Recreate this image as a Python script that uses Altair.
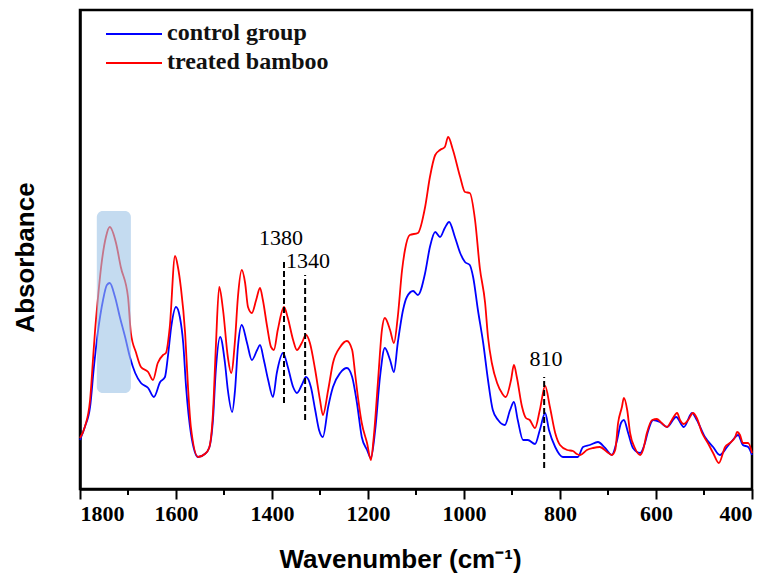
import altair as alt
import pandas as pd

# ---- data (wavenumber in cm-1, absorbance in a.u.) ----
wn_control = [1800, 1790, 1779, 1771, 1763, 1752, 1744, 1738, 1727, 1717, 1706, 1696, 1685, 1673,
              1658, 1646, 1633, 1623, 1617, 1610, 1600, 1592, 1585, 1579, 1569, 1554, 1540, 1531,
              1523, 1517, 1508, 1498, 1492, 1483, 1477, 1471, 1463, 1452, 1442, 1431, 1425, 1417,
              1408, 1398, 1390, 1377, 1367, 1356, 1348, 1338, 1329, 1319, 1310, 1302, 1294, 1283,
              1273, 1258, 1244, 1233, 1223, 1213, 1202, 1194, 1185, 1175, 1165, 1154, 1146, 1138,
              1127, 1119, 1106, 1096, 1081, 1071, 1060, 1050, 1040, 1031, 1019, 1008, 998, 988,
              981, 971, 960, 950, 940, 929, 915, 904, 896, 888, 877, 867, 852, 842, 831, 823, 810,
              794, 763, 752, 738, 721, 706, 692, 681, 673, 667, 658, 648, 633, 623, 617, 606, 592,
              577, 558, 542, 525, 515, 498, 481, 467, 452, 440, 429, 419, 408, 400]
abs_control = [0.49, 0.62, 0.82, 1.22, 1.56, 1.89, 2.04, 2.06, 1.92, 1.72, 1.52, 1.32, 1.16, 1.06,
               1.01, 0.92, 1.07, 1.12, 1.32, 1.62, 1.82, 1.72, 1.46, 1.02, 0.56, 0.32, 0.35, 0.41,
               0.69, 1.19, 1.52, 1.26, 0.99, 0.77, 0.99, 1.42, 1.64, 1.46, 1.29, 1.39, 1.44, 1.29,
               1.09, 0.92, 1.16, 1.36, 1.22, 1.02, 0.96, 1.04, 1.12, 1.02, 0.79, 0.59, 0.52, 0.82,
               1.02, 1.16, 1.21, 1.12, 0.86, 0.52, 0.39, 0.31, 0.59, 1.12, 1.41, 1.29, 1.17, 1.46,
               1.79, 1.92, 1.98, 1.94, 2.16, 2.42, 2.57, 2.52, 2.61, 2.67, 2.52, 2.36, 2.27, 2.24,
               2.12, 1.79, 1.46, 1.09, 0.79, 0.69, 0.64, 0.79, 0.87, 0.69, 0.49, 0.49, 0.45, 0.59,
               0.76, 0.59, 0.42, 0.32, 0.32, 0.42, 0.44, 0.47, 0.41, 0.34, 0.49, 0.66, 0.69, 0.56,
               0.41, 0.36, 0.46, 0.57, 0.69, 0.67, 0.62, 0.72, 0.62, 0.76, 0.69, 0.52, 0.42, 0.34,
               0.42, 0.49, 0.54, 0.44, 0.42, 0.34]

wn_treated = [1800, 1790, 1779, 1773, 1769, 1763, 1756, 1746, 1738, 1725, 1715, 1700, 1694, 1683,
              1673, 1658, 1648, 1638, 1627, 1621, 1613, 1602, 1596, 1590, 1581, 1575, 1569, 1554,
              1540, 1531, 1523, 1517, 1510, 1502, 1492, 1485, 1477, 1471, 1463, 1456, 1450, 1442,
              1433, 1425, 1419, 1410, 1402, 1396, 1388, 1375, 1367, 1356, 1348, 1338, 1329, 1321,
              1310, 1300, 1294, 1283, 1273, 1258, 1244, 1233, 1227, 1221, 1213, 1202, 1194, 1188,
              1179, 1171, 1165, 1154, 1146, 1138, 1129, 1123, 1113, 1096, 1081, 1071, 1060, 1050,
              1040, 1033, 1023, 1008, 998, 988, 977, 967, 956, 950, 942, 931, 921, 913, 902, 896,
              890, 879, 871, 863, 852, 842, 831, 821, 810, 800, 785, 773, 765, 758, 744, 731, 717,
              702, 692, 685, 679, 671, 667, 660, 654, 644, 633, 627, 619, 608, 598, 588, 577, 567,
              556, 550, 542, 533, 523, 515, 504, 492, 481, 469, 456, 446, 435, 431, 425, 419, 408,
              400]
abs_treated = [0.51, 0.62, 0.89, 1.29, 1.56, 1.89, 2.22, 2.52, 2.62, 2.46, 2.22, 1.92, 1.56, 1.36,
               1.22, 1.17, 1.09, 1.26, 1.34, 1.36, 1.62, 2.33, 2.22, 2.02, 1.56, 1.02, 0.62, 0.32,
               0.35, 0.41, 0.76, 1.42, 2.02, 1.79, 1.32, 1.16, 1.49, 1.92, 2.19, 2.06, 1.82, 1.76,
               1.89, 2.01, 1.89, 1.62, 1.42, 1.39, 1.59, 1.82, 1.71, 1.49, 1.39, 1.46, 1.54, 1.46,
               1.19, 0.89, 0.74, 0.99, 1.26, 1.42, 1.48, 1.39, 1.16, 0.92, 0.66, 0.46, 0.29, 0.52,
               1.09, 1.59, 1.71, 1.59, 1.46, 1.72, 2.19, 2.39, 2.54, 2.56, 2.82, 3.12, 3.34, 3.39,
               3.42, 3.52, 3.39, 3.12, 2.97, 2.96, 2.69, 2.21, 1.86, 1.52, 1.26, 1.06, 0.96, 0.92,
               1.09, 1.24, 1.12, 0.82, 0.71, 0.69, 0.61, 0.79, 1.03, 0.82, 0.56, 0.44, 0.39, 0.38,
               0.35, 0.34, 0.39, 0.41, 0.42, 0.37, 0.34, 0.39, 0.66, 0.82, 0.91, 0.79, 0.56, 0.41,
               0.34, 0.39, 0.56, 0.69, 0.70, 0.66, 0.62, 0.69, 0.76, 0.69, 0.65, 0.69, 0.76, 0.71,
               0.56, 0.46, 0.36, 0.26, 0.42, 0.46, 0.52, 0.57, 0.54, 0.46, 0.46, 0.36]

series_names = ["control group", "treated bamboo"]
series_colors = ["#0000ff", "#ff0000"]

marker_wn = [1375, 1331, 833]
marker_top = [2.29, 2.14, 1.12]
marker_bottom = [0.86, 0.69, 0.21]

label_text = ["1380", "1340", "810"]
label_wn = [1381, 1325, 829]
label_abs = [2.44, 2.21, 1.23]

box_wn = [1765, 1694]
box_abs = [0.96, 2.78]

major_ticks = [1800, 1600, 1400, 1200, 1000, 800, 600, 400]
minor_ticks = [1700, 1500, 1300, 1100, 900, 700, 500]

SERIF = "Liberation Serif, Times New Roman, serif"
SANS = "Liberation Sans, Arial, sans-serif"

# ---- tables ----
df = pd.concat([
    pd.DataFrame({"wn": wn_control, "a": abs_control, "series": series_names[0]}),
    pd.DataFrame({"wn": wn_treated, "a": abs_treated, "series": series_names[1]}),
])
df_mark = pd.DataFrame({"wn": marker_wn, "a": marker_bottom, "a2": marker_top})
df_lab = pd.DataFrame({"wn": label_wn, "a": label_abs, "label": label_text})
df_box = pd.DataFrame({"wn": [box_wn[0]], "wn2": [box_wn[1]], "a": [box_abs[0]], "a2": [box_abs[1]]})
df_minor = pd.DataFrame({"wn": minor_ticks})

X = alt.X(
    "wn:Q",
    title="Wavenumber (cm⁻¹)",
    scale=alt.Scale(domain=[400, 1800], reverse=True, nice=False, zero=False),
    axis=alt.Axis(
        values=major_ticks, format="d", tickSize=10, tickWidth=2, labelPadding=4,
        titleX=320, titleY=78, titleBaseline="alphabetic",
    ),
)
Y = alt.Y(
    "a:Q",
    title="Absorbance",
    scale=alt.Scale(domain=[0, 4.79], nice=False, zero=False),
    axis=alt.Axis(labels=False, ticks=False, titleX=-47, titleY=247, titleBaseline="alphabetic"),
)

color = alt.Color("series:N", scale=alt.Scale(domain=series_names, range=series_colors), legend=None)

lines = alt.Chart(df).mark_line(strokeWidth=1.8, interpolate="monotone").encode(
    x=X, y=Y, color=color, order=alt.Order("series:N")
)

box = alt.Chart(df_box).mark_rect(color="#9dc3e6", opacity=0.6, cornerRadius=6).encode(
    x=X, x2="wn2:Q", y=Y, y2="a2:Q"
)

markers = alt.Chart(df_mark).mark_rule(color="black", strokeWidth=2, strokeDash=[6, 3]).encode(
    x=X, y=Y, y2="a2:Q"
)

labels = alt.Chart(df_lab).mark_text(
    font=SERIF, fontSize=22, color="black", baseline="alphabetic", align="center"
).encode(x=X, y=Y, text="label:N")

minor = alt.Chart(df_minor).mark_rule(color="black", strokeWidth=2).encode(
    x=X, y=alt.value(479), y2=alt.value(485)
)

legend_layers = []
for i, (name, col) in enumerate(zip(series_names, series_colors)):
    d = pd.DataFrame({"series": [name]})
    legend_layers.append(
        alt.Chart(d).mark_rule(color=col, strokeWidth=2).encode(
            x=alt.value(26), x2=alt.value(82), y=alt.value(24 + 29 * i)
        )
    )
    legend_layers.append(
        alt.Chart(d).mark_text(
            font=SERIF, fontSize=24, fontWeight="bold", color="#111111",
            align="left", baseline="middle"
        ).encode(x=alt.value(87), y=alt.value(23 + 29 * i), text="series:N")
    )

chart = alt.layer(lines, box, markers, labels, minor, *legend_layers).properties(
    width=672,
    height=479,
    padding={"left": 72, "top": 2, "right": 10, "bottom": 84},
    autosize=alt.AutoSizeParams(type="none"),
).configure(
    font=SERIF
).configure_view(
    stroke="black", strokeWidth=2.5
).configure_axis(
    grid=False,
    domainColor="black",
    domainWidth=2.5,
    tickColor="black",
    labelFont=SERIF,
    labelFontWeight="bold",
    labelFontSize=22,
    labelColor="black",
    titleFont=SANS,
    titleFontWeight="bold",
    titleFontSize=26,
    titleColor="black",
)

chart.save("out.html", embed_options={"renderer": "svg", "actions": False})
